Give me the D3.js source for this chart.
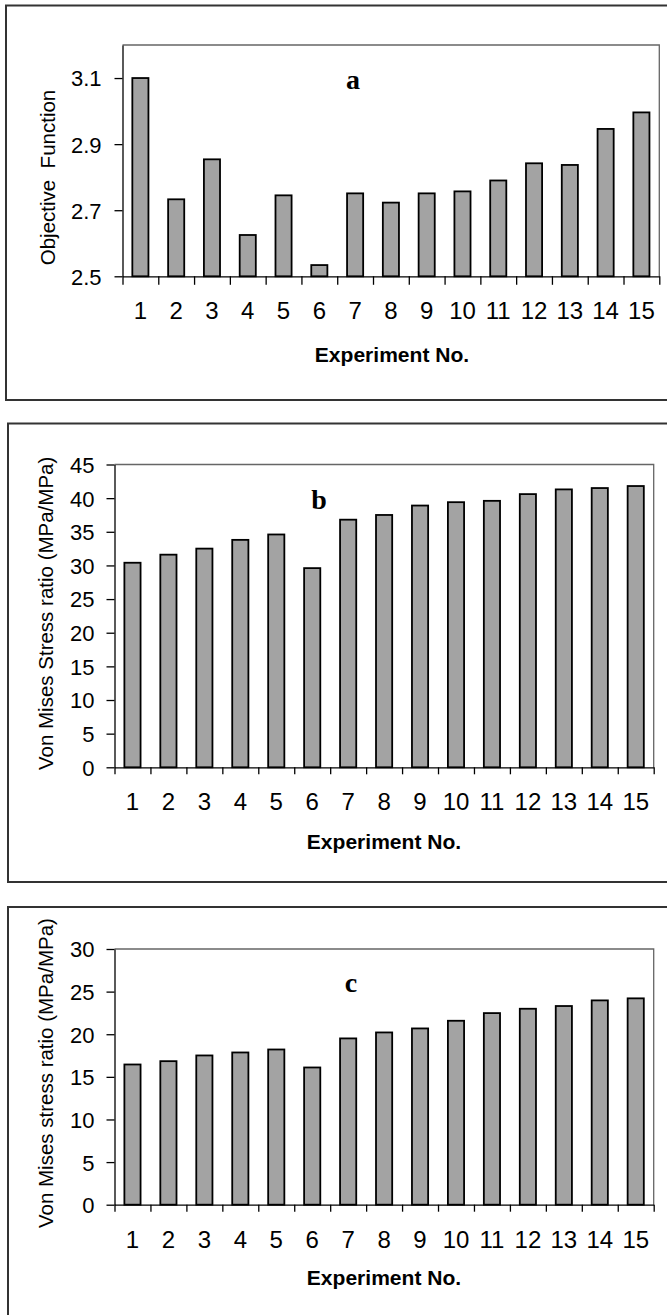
<!DOCTYPE html>
<html>
<head>
<meta charset="utf-8">
<script src="https://cdnjs.cloudflare.com/ajax/libs/d3/7.8.5/d3.min.js"></script>
<style>
    body { margin: 0; background: #fff; }
    svg { display: block; }
    .tick text { font-family: "Liberation Sans", Arial, sans-serif; fill: #000; }
</style>
</head>
<body>
<div id="figure"></div>
<script>
// values
var experiments = ["1","2","3","4","5","6","7","8","9","10","11","12","13","14","15"];
var objectiveValues = [3.10, 2.733, 2.854, 2.625, 2.745, 2.534, 2.751, 2.723, 2.751, 2.757, 2.790, 2.842, 2.837, 2.946, 2.996];
var stressRatioB = [30.4, 31.6, 32.5, 33.8, 34.6, 29.6, 36.8, 37.5, 38.9, 39.4, 39.6, 40.6, 41.3, 41.5, 41.8];
var stressRatioC = [16.45, 16.84, 17.51, 17.86, 18.21, 16.10, 19.51, 20.21, 20.68, 21.58, 22.48, 22.99, 23.31, 23.97, 24.21];

var objectiveTicks = [2.5, 2.7, 2.9, 3.1];
var stressTicksB = [0, 5, 10, 15, 20, 25, 30, 35, 40, 45];
var stressTicksC = [0, 5, 10, 15, 20, 25, 30];

var objectiveDomain = [2.5, 3.2];
var stressDomainB = [0, 45];
var stressDomainC = [0, 30];

var svg = d3.select("#figure").append("svg")
    .attr("width", 667)
    .attr("height", 1315);

function draw_panel(p){
    // outer frame of the panel
    svg.append("rect")
        .attr("x", p.box[0]).attr("y", p.box[1])
        .attr("width", p.box[2]).attr("height", p.box[3])
        .attr("fill", "none")
        .attr("stroke", "#333")
        .attr("stroke-width", 2);

    var width = p.right - p.left,
        height = p.bottom - p.top;

    var g = svg.append("g")
        .attr("transform", "translate(" + p.left + "," + p.top + ")");

    var xScale = d3.scaleBand()
        .domain(experiments)
        .range([0, width])
        .paddingInner(0.55)
        .paddingOuter(0.275);

    // category boundaries for the tick marks
    var edgeScale = d3.scaleLinear()
        .domain([0, experiments.length])
        .range([0, width]);

    var yScale = d3.scaleLinear()
        .domain(p.domain)
        .range([height, 0]);

    // plot area border (top and right)
    g.append("path")
        .attr("d", "M0,0H" + width + "V" + height)
        .attr("fill", "none")
        .attr("stroke", "#666")
        .attr("stroke-width", 1.3);

    g.selectAll("rect.bar")
        .data(p.values)
        .enter().append("rect")
        .attr("class", "bar")
        .attr("x", function(d, i){ return xScale(experiments[i]); })
        .attr("width", xScale.bandwidth())
        .attr("y", function(d){ return yScale(d); })
        .attr("height", function(d){ return height - yScale(d); })
        .attr("fill", "#a3a3a3")
        .attr("stroke", "#000")
        .attr("stroke-width", 1.8);

    // x axis: line + boundary ticks
    var xEdges = g.append("g")
        .attr("transform", "translate(0," + height + ")")
        .call(d3.axisBottom(edgeScale)
            .tickValues(d3.range(experiments.length + 1))
            .tickSize(p.xTick)
            .tickSizeOuter(0)
            .tickFormat(""));
    xEdges.selectAll("line, path").attr("stroke", "#000").attr("stroke-width", 1.3);

    var xLabels = g.append("g")
        .attr("transform", "translate(0," + height + ")")
        .call(d3.axisBottom(xScale).tickSize(0).tickPadding(0));
    xLabels.select(".domain").remove();
    xLabels.selectAll("text")
        .attr("dy", null)
        .attr("y", p.xLabelBase)
        .style("font-size", "24px");

    // y axis
    var yAxis = g.append("g")
        .call(d3.axisLeft(yScale)
            .tickValues(p.ticks)
            .tickSize(p.yTick)
            .tickSizeOuter(0)
            .tickPadding(p.yPad)
            .tickFormat(p.format));
    yAxis.selectAll("line, path").attr("stroke", "#000").attr("stroke-width", 1.3);
    yAxis.selectAll("text")
        .attr("dy", "0.36em")
        .style("font-size", "22px");

    // axis titles
    svg.append("text")
        .attr("transform", "translate(" + p.xTitle[0] + "," + p.xTitle[1] + ") scale(1.08,1)")
        .attr("text-anchor", "middle")
        .style("font-family", "'Liberation Sans', Arial, sans-serif")
        .style("font-weight", "bold")
        .style("font-size", "19.5px")
        .text("Experiment No.");

    svg.append("text")
        .attr("transform", "translate(" + p.yTitle[0] + "," + p.yTitle[1] + ") rotate(-90)")
        .attr("text-anchor", p.yAnchor)
        .attr("xml:space", "preserve")
        .style("white-space", "pre")
        .style("font-family", "'Liberation Sans', Arial, sans-serif")
        .style("font-size", "20.5px")
        .text(p.yLabel);

    // panel letter
    svg.append("text")
        .attr("x", p.letterPos[0])
        .attr("y", p.letterPos[1])
        .attr("text-anchor", "middle")
        .style("font-family", "'Liberation Serif', 'Times New Roman', serif")
        .style("font-weight", "bold")
        .style("font-size", "28px")
        .text(p.letter);
}

draw_panel({
    box: [6, 5.5, 700, 394.5],
    left: 122.5, right: 659.3, top: 45, bottom: 276.3,
    values: objectiveValues, domain: objectiveDomain, ticks: objectiveTicks,
    format: d3.format(".1f"),
    xTick: 8.5, yTick: 8, yPad: 13, xLabelBase: 43.2,
    xTitle: [392, 362],
    yTitle: [55, 177.5], yAnchor: "middle", yLabel: "Objective  Function",
    letter: "a", letterPos: [353, 89]
});

draw_panel({
    box: [8, 423.5, 700, 458.5],
    left: 114.5, right: 653.7, top: 464.5, bottom: 767.3,
    values: stressRatioB, domain: stressDomainB, ticks: stressTicksB,
    format: d3.format("d"),
    xTick: 7, yTick: 8, yPad: 12, xLabelBase: 43,
    xTitle: [384, 848.5],
    yTitle: [53, 770], yAnchor: "start", yLabel: "Von Mises Stress ratio (MPa/MPa)",
    letter: "b", letterPos: [319, 509]
});

draw_panel({
    box: [8, 907, 700, 440],
    left: 114.5, right: 653.7, top: 949, bottom: 1204.7,
    values: stressRatioC, domain: stressDomainC, ticks: stressTicksC,
    format: d3.format("d"),
    xTick: 7, yTick: 8, yPad: 12, xLabelBase: 43.3,
    xTitle: [384, 1285],
    yTitle: [53, 1228], yAnchor: "start", yLabel: "Von Mises stress ratio (MPa/MPa)",
    letter: "c", letterPos: [351, 992]
});
</script>
</body>
</html>
